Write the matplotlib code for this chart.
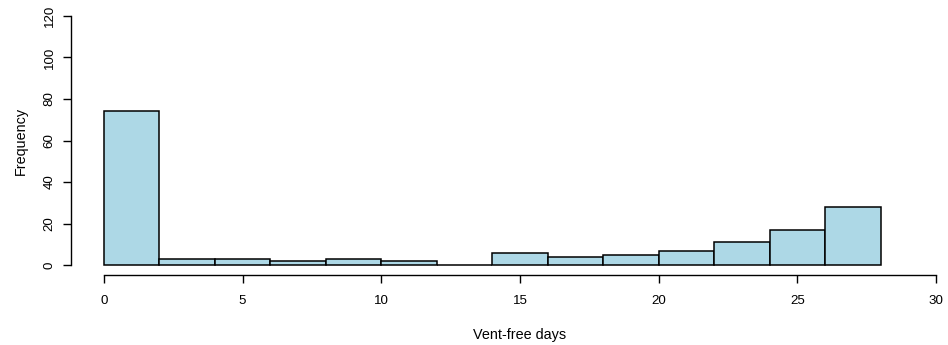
import numpy as np
import matplotlib.pyplot as plt

plt.rcParams['font.family'] = ['Liberation Sans', 'DejaVu Sans']

# histogram bins (width 2) and counts
bin_edges = [0, 2, 4, 6, 8, 10, 12, 14, 16, 18, 20, 22, 24, 26, 28]
counts = [74, 3, 3, 2, 3, 2, 0, 6, 4, 5, 7, 11, 17, 28]
x_ticks = [0, 5, 10, 15, 20, 25, 30]
y_ticks = [0, 20, 40, 60, 80, 100, 120]

W, H = 948, 345
fig = plt.figure(figsize=(W / 100, H / 100), dpi=100)
# R-like plot region; it runs a little past the right edge of the image
left, right = 70.7 / W, 969.3 / W
bottom, top = (H - 275) / H, (H - 6) / H
ax = fig.add_axes([left, bottom, right - left, top - bottom])

lefts = np.array(bin_edges[:-1])
widths = np.diff(bin_edges)
ax.bar(lefts, counts, width=widths, align='edge', color='#ADD8E6',
       edgecolor='black', linewidth=1.1)

ax.set_xlim(-1.2, 31.2)
ax.set_ylim(-4.8, 124.8)

for s in ['top', 'right']:
    ax.spines[s].set_visible(False)
ax.spines['left'].set_bounds(0, 120)
ax.spines['bottom'].set_bounds(0, 30)
for s in ['left', 'bottom']:
    ax.spines[s].set_linewidth(1.0)

ax.set_xticks(x_ticks)
ax.set_yticks(y_ticks)
ax.set_yticklabels([str(v) for v in y_ticks], rotation=90, va='center')
ax.tick_params(axis='both', direction='out', length=5.8, width=1.0,
               labelsize=9.6)
ax.tick_params(axis='x', pad=8.6)
ax.tick_params(axis='y', pad=5)

ax.set_xlabel('Vent-free days', fontsize=10.4, labelpad=15)
ax.set_ylabel('Frequency', fontsize=10.4, labelpad=11.5)

fig.savefig('out.png', dpi=100)
